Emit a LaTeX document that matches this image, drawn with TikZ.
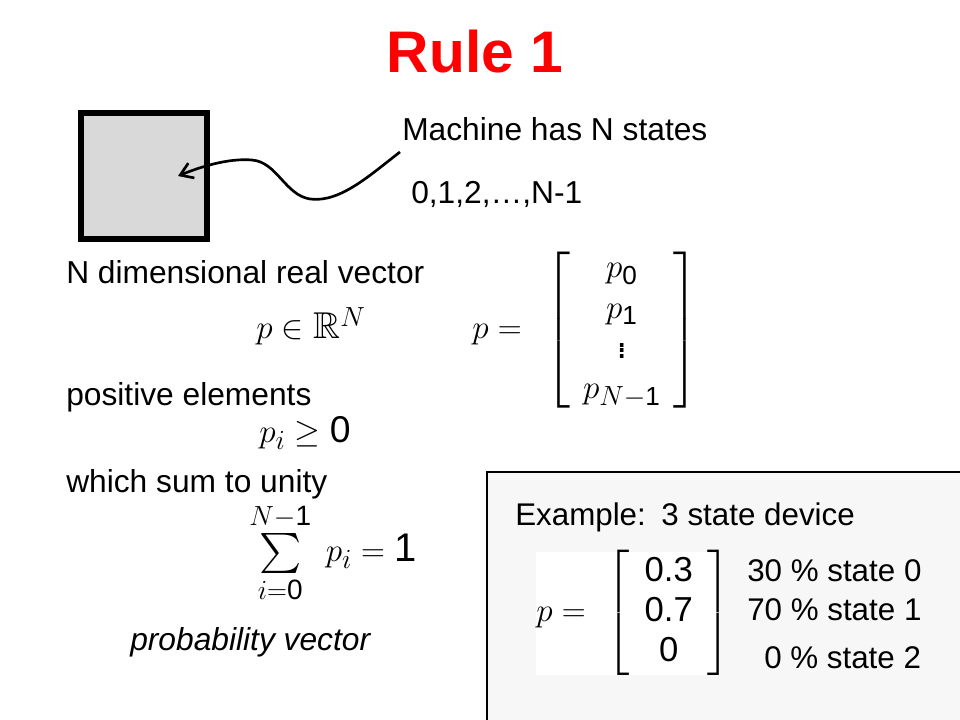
\documentclass[tikz,border=0pt]{standalone}
\usepackage{amsmath,amssymb}
\usepackage{fontspec}
\setmainfont{Liberation Sans}
\usetikzlibrary{arrows.meta}
\definecolor{titlered}{RGB}{255,0,0}
\definecolor{boxgray}{RGB}{217,217,217}
\definecolor{exfill}{RGB}{247,247,247}
\newcommand{\sd}[1]{\text{#1}}
\begin{document}
\begin{tikzpicture}[x=0.75pt,y=-0.75pt,
  txt/.style={anchor=base west, inner sep=0pt, font=\fontsize{23.8}{28}\selectfont},
  extxt/.style={anchor=base west, inner sep=0pt, font=\fontsize{23.5}{28}\selectfont},
  mth/.style={inner sep=0pt, font=\fontsize{28}{30}\selectfont},
  exmth/.style={inner sep=0pt, font=\fontsize{26}{30}\selectfont},
  machine/.style={draw=black, fill=boxgray, line width=4.5pt, minimum width=94.5pt, minimum height=94.5pt, inner sep=0pt},
  wavy/.style={line width=2pt, -{Straight Barb[length=9pt,width=12pt,line width=2pt]}}
]
\useasboundingbox (0,0) rectangle (960,720);
\fill[white] (0,0) rectangle (960,720);

% title
\node[inner sep=0pt, text=titlered, font=\fontsize{44}{50}\selectfont\bfseries] (title) at (475,52) {Rule 1};

% machine box
\node[machine] (machine) at (144,176) {};

% texts
\node[txt] (mach) at (402,141) {Machine has N states};
\node[txt] (states) at (411,204) {0,1,2,\dots,N-1};
\coordinate (cstart) at (400,152);
\coordinate (ctip) at (178,176);
\draw[wavy] (cstart) .. controls (370,175) and (340,203) .. (310,199)
  .. controls (285,195) and (277,162) .. (252,160)
  .. controls (228,158) and (200,167) .. (ctip);

\node[txt] (ndim) at (66,284) {N dimensional real vector};
\node[mth] (inR) at (311,326) {$p \in \mathbb{R}^N$};
\node[mth, anchor=west] (pvec) at (472,330) {$p =\hspace{11pt} \left[\arraycolsep=9.5pt\begin{array}{c} p_{\sd{0}} \\ p_{\sd{1}} \\ \vdots \\ p_{N-\sd{1}} \end{array}\right]$};

\node[txt] (pos) at (66,405) {positive elements};
\node[mth] (geq) at (305,433) {$p_i \geq \sd{0}$};

\node[txt] (sum) at (66,492) {which sum to unity};
\node[mth, font=\fontsize{30}{32}\selectfont] (sumeq) at (333,553) {$\sum\limits_{i=\sd{0}}^{N-\sd{1}} \; p_i = \sd{1}$};

\node[txt, font=\fontsize{23.8}{28}\selectfont\itshape] (prob) at (130,650) {probability vector};

% example box
\draw[fill=exfill, line width=1.3pt] (487,472) rectangle (975,735);
\node[extxt] (ex) at (515,525) {Example: \hspace{3pt}3 state device};
\fill[white] (536,552) rectangle (718,675);
\node[exmth, anchor=west] (exvec) at (536,613) {$p =\hspace{9pt} \left[\arraycolsep=11pt\begin{array}{c} \sd{0.3} \\ \sd{0.7} \\ \sd{0} \end{array}\right]$};
\node[extxt] (s0) at (747,581) {30 \% state 0};
\node[extxt] (s1) at (747,620) {70 \% state 1};
\node[extxt] (s2) at (764,668) {0 \% state 2};
\end{tikzpicture}
\end{document}
